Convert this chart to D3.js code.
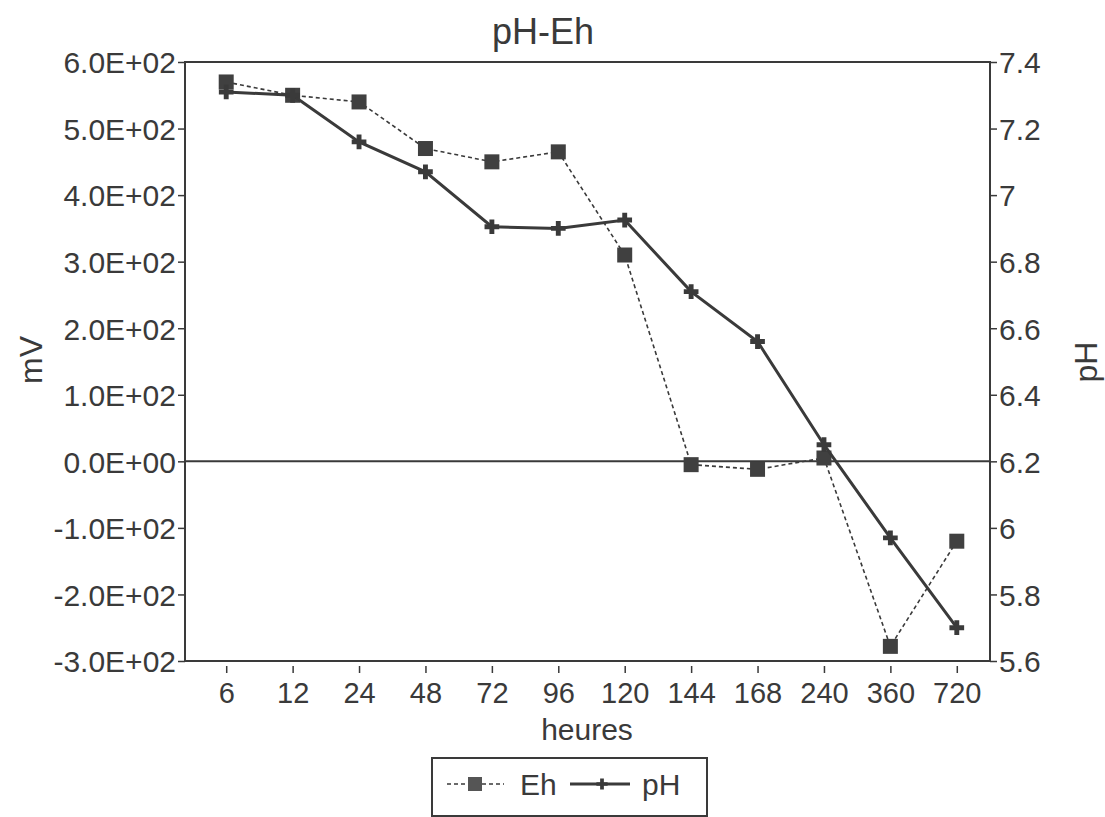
<!DOCTYPE html>
<html>
<head>
<meta charset="utf-8">
<script src="https://cdn.jsdelivr.net/npm/d3@7/dist/d3.min.js"></script>
<style>
  body { margin: 0; background: #fff; }
  text { font-family: "Liberation Sans", Arial, sans-serif; fill: #3a3a3a; }
</style>
</head>
<body>
<div id="chart"></div>
<script>
// hours (categorical axis)
const heures = ["6", "12", "24", "48", "72", "96", "120", "144", "168", "240", "360", "720"];
// Eh in mV (left axis)
const eh = [570, 550, 540, 470, 450, 465, 310, -5, -12, 5, -278, -120];
// pH (right axis)
const ph = [7.31, 7.30, 7.16, 7.07, 6.905, 6.90, 6.925, 6.71, 6.56, 6.25, 5.97, 5.70];

const mvTicks = [-300, -200, -100, 0, 100, 200, 300, 400, 500, 600];
const phTicks = [5.6, 5.8, 6, 6.2, 6.4, 6.6, 6.8, 7, 7.2, 7.4];

const svgWidth = 1105, svgHeight = 817;
const margin = { top: 62, right: 115, bottom: 156, left: 185 };
const width = svgWidth - margin.left - margin.right;
const height = svgHeight - margin.top - margin.bottom;
const ink = "#3a3a3a";

const svg = d3.select("#chart")
  .append("svg")
  .attr("width", svgWidth)
  .attr("height", svgHeight);

const chart = svg.append("g")
  .attr("transform", `translate(${margin.left}, ${margin.top})`);

const xScale = d3.scalePoint()
  .domain(heures)
  .range([8, width])
  .padding(0.5);

const yLeft = d3.scaleLinear().domain([-300, 600]).range([height, 0]);
const yRight = d3.scaleLinear().domain([5.6, 7.4]).range([height, 0]);

// frame
chart.append("rect")
  .attr("width", width)
  .attr("height", height)
  .attr("fill", "none")
  .attr("stroke", ink)
  .attr("stroke-width", 2);

// zero line
chart.append("line")
  .attr("x1", 0).attr("x2", width)
  .attr("y1", yLeft(0)).attr("y2", yLeft(0))
  .attr("stroke", ink)
  .attr("stroke-width", 2);

// axes
const fmt = d => d === 0 ? "0.0E+00" : (d / 100).toFixed(1) + "E+02";

const leftAxis = chart.append("g")
  .call(d3.axisLeft(yLeft).tickValues(mvTicks).tickFormat(fmt).tickSize(7).tickPadding(2));
leftAxis.selectAll("text").attr("font-size", 30).attr("dy", "0.36em");

const rightAxis = chart.append("g")
  .attr("transform", `translate(${width}, 0)`)
  .call(d3.axisRight(yRight).tickValues(phTicks).tickFormat(d => d3.format("")(d)).tickSize(7).tickPadding(2));
rightAxis.selectAll("text").attr("font-size", 30).attr("dy", "0.36em");

const bottomAxis = chart.append("g")
  .attr("transform", `translate(0, ${height + 5})`)
  .call(d3.axisBottom(xScale).tickSize(7).tickPadding(6));
bottomAxis.selectAll("text").attr("font-size", 29).attr("dy", "0.82em");

[leftAxis, rightAxis, bottomAxis].forEach(a => {
  a.select(".domain").remove();
  a.selectAll("line").attr("stroke", ink).attr("stroke-width", 1.5);
});

// Eh series (dashed)
chart.append("path")
  .datum(eh)
  .attr("fill", "none")
  .attr("stroke", ink)
  .attr("stroke-width", 1.6)
  .attr("stroke-dasharray", "4,3")
  .attr("d", d3.line().x((d, i) => xScale(heures[i])).y(d => yLeft(d)));

chart.selectAll(".eh")
  .data(eh)
  .enter()
  .append("rect")
  .attr("class", "eh")
  .attr("x", (d, i) => xScale(heures[i]) - 7.5)
  .attr("y", d => yLeft(d) - 7.5)
  .attr("width", 15)
  .attr("height", 15)
  .attr("fill", "#404040");

// pH series (solid with plus markers)
chart.append("path")
  .datum(ph)
  .attr("fill", "none")
  .attr("stroke", ink)
  .attr("stroke-width", 3)
  .attr("d", d3.line().x((d, i) => xScale(heures[i])).y(d => yRight(d)));

const plus = d3.symbol().type(d3.symbolCross).size(120);
chart.selectAll(".ph")
  .data(ph)
  .enter()
  .append("path")
  .attr("class", "ph")
  .attr("transform", (d, i) => `translate(${xScale(heures[i])}, ${yRight(d)})`)
  .attr("d", plus)
  .attr("fill", ink);

// title and axis labels
svg.append("text")
  .attr("x", 543).attr("y", 44)
  .attr("text-anchor", "middle")
  .attr("font-size", 36)
  .text("pH-Eh");

svg.append("text")
  .attr("transform", "rotate(-90)")
  .attr("x", -360).attr("y", 42)
  .attr("text-anchor", "middle")
  .attr("font-size", 32)
  .text("mV");

svg.append("text")
  .attr("transform", "rotate(-90)")
  .attr("x", -362).attr("y", 1097)
  .attr("text-anchor", "middle")
  .attr("font-size", 32)
  .text("pH");

svg.append("text")
  .attr("x", 587).attr("y", 740)
  .attr("text-anchor", "middle")
  .attr("font-size", 30)
  .text("heures");

// legend
const legend = svg.append("g");
legend.append("rect")
  .attr("x", 432).attr("y", 758)
  .attr("width", 275).attr("height", 58)
  .attr("fill", "none")
  .attr("stroke", ink)
  .attr("stroke-width", 2);

legend.append("line")
  .attr("x1", 447).attr("x2", 504).attr("y1", 784).attr("y2", 784)
  .attr("stroke", ink).attr("stroke-width", 1.6).attr("stroke-dasharray", "4,3");
legend.append("rect")
  .attr("x", 468).attr("y", 777).attr("width", 14).attr("height", 14)
  .attr("fill", "#555");
legend.append("text")
  .attr("x", 520).attr("y", 795)
  .attr("font-size", 30)
  .text("Eh");

legend.append("line")
  .attr("x1", 570).attr("x2", 630).attr("y1", 784).attr("y2", 784)
  .attr("stroke", ink).attr("stroke-width", 3);
legend.append("path")
  .attr("transform", "translate(602, 784)")
  .attr("d", d3.symbol().type(d3.symbolCross).size(70))
  .attr("fill", ink);
legend.append("text")
  .attr("x", 642).attr("y", 795)
  .attr("font-size", 30)
  .text("pH");
</script>
</body>
</html>
